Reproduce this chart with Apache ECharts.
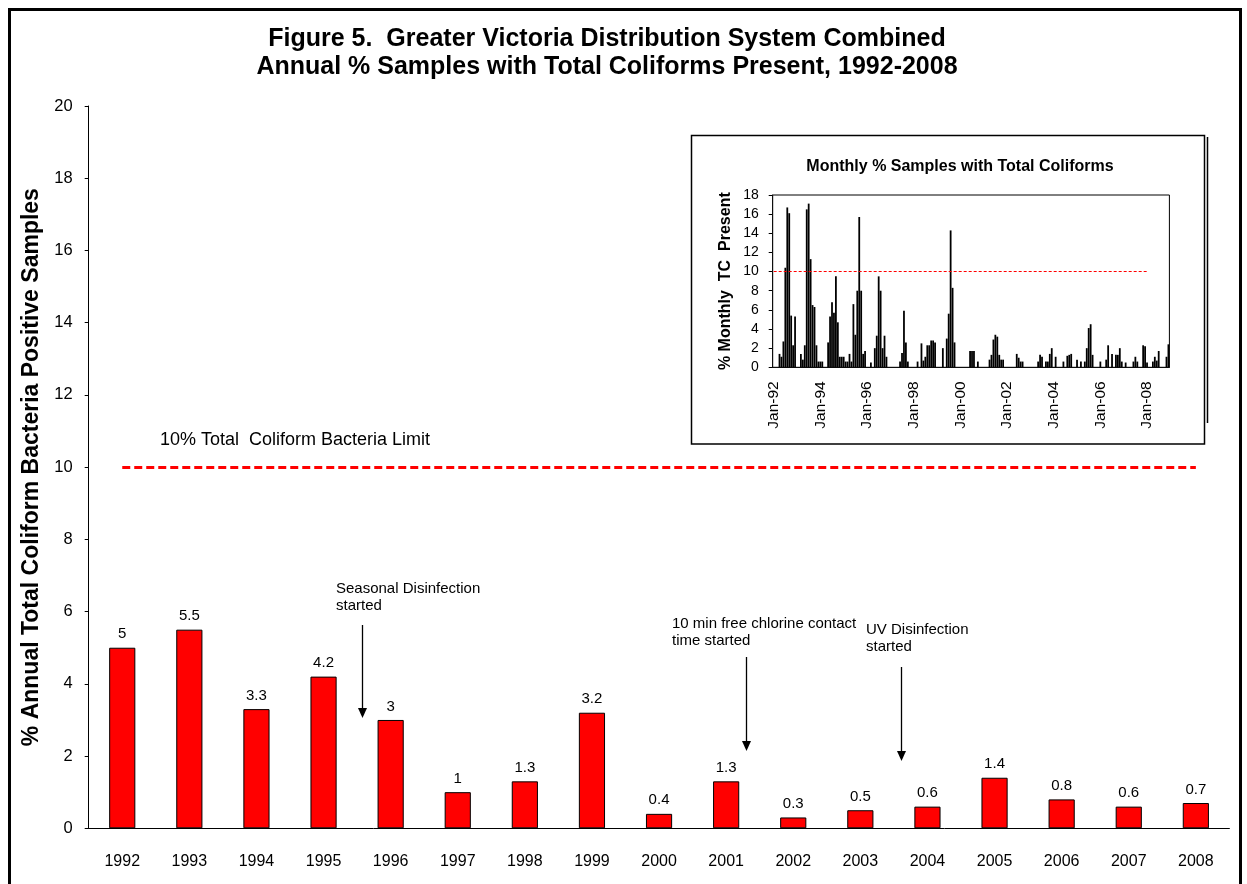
<!DOCTYPE html>
<html>
<head>
<meta charset="utf-8">
<title>Figure 5</title>
<script src="https://cdn.jsdelivr.net/npm/echarts@6/dist/echarts.min.js"></script>
<style>
html, body {margin: 0; padding: 0; background: #fff;}
#chart {width: 1247px; height: 884px;}
</style>
</head>
<body>
<div id="chart"></div>
<script>
// annual % samples with TC present
var years = ['1992','1993','1994','1995','1996','1997','1998','1999','2000','2001','2002','2003','2004','2005','2006','2007','2008'];
var annual = [5, 5.5, 3.3, 4.2, 3, 1, 1.3, 3.2, 0.4, 1.3, 0.3, 0.5, 0.6, 1.4, 0.8, 0.6, 0.7];
var limit = 10;

// monthly % samples (inset), Jan..Dec of each year
var m1992 = [0, 0, 0, 1.4, 1.1, 2.7, 10.4, 16.7, 16.1, 5.4, 2.3, 5.3];
var m1993 = [0, 0, 1.4, 0.8, 2.3, 16.5, 17.1, 11.3, 6.5, 6.3, 2.3, 0.6];
var m1994 = [0.6, 0.6, 0, 0, 2.6, 5.3, 6.8, 5.7, 9.5, 4.7, 1.1, 1.1];
var m1995 = [1.1, 0.6, 0.6, 1.4, 0.6, 6.6, 3.4, 8.0, 15.7, 8.0, 1.4, 1.7];
var m1996 = [0, 0, 0.5, 0, 2.0, 3.3, 9.5, 8.0, 2.0, 3.3, 1.1, 0];
var m1997 = [0, 0, 0, 0, 0, 0.6, 1.5, 5.9, 2.6, 0.6, 0, 0];
var m1998 = [0, 0, 0.6, 0, 2.5, 0.7, 1.1, 2.3, 2.3, 2.8, 2.8, 2.6];
var m1999 = [0, 0, 0, 2.0, 0, 3.0, 5.6, 14.3, 8.3, 2.6, 0, 0];
var m2000 = [0, 0, 0, 0, 0, 1.7, 1.7, 1.7, 0, 0.6, 0, 0];
var m2001 = [0, 0, 0, 0.8, 1.3, 2.9, 3.4, 3.2, 1.3, 0.8, 0.8, 0];
var m2002 = [0, 0, 0, 0, 0, 1.4, 1.0, 0.6, 0.6, 0, 0, 0];
var m2003 = [0, 0, 0, 0, 0.6, 1.3, 1.1, 0, 0.6, 0.6, 1.4, 2.0];
var m2004 = [0, 1.1, 0, 0, 0, 0.6, 0, 1.2, 1.3, 1.4, 0, 0];
var m2005 = [0.8, 0, 0.6, 0, 0.6, 2.0, 4.1, 4.5, 1.3, 0, 0, 0];
var m2006 = [0.6, 0, 0, 0.8, 2.3, 0, 1.4, 0, 1.3, 1.3, 2.0, 0.6];
var m2007 = [0, 0.5, 0, 0, 0, 0.6, 1.1, 0.6, 0, 0, 2.3, 2.2];
var m2008 = [0.5, 0, 0, 0.6, 1.1, 0.7, 1.7, 0, 0, 0, 1.1, 2.4];
var monthNames = ['Jan','Feb','Mar','Apr','May','Jun','Jul','Aug','Sep','Oct','Nov','Dec'];

var monthlyRows = [m1992, m1993, m1994, m1995, m1996, m1997, m1998, m1999, m2000,
                   m2001, m2002, m2003, m2004, m2005, m2006, m2007, m2008];
var months = [];
var monthly = [];
years.forEach(function (y, i) {
    monthNames.forEach(function (mn, j) {
        months.push(mn + '-' + y.slice(2));
        monthly.push(monthlyRows[i][j]);
    });
});

var FONT = '"Liberation Sans", Arial, sans-serif';

function arrow(x, y1, y2) {
    return [
        {type: 'line', z: 10, shape: {x1: x, y1: y1, x2: x, y2: y2 - 8}, style: {stroke: '#000', lineWidth: 1.3}},
        {type: 'polygon', z: 10, shape: {points: [[x - 4.5, y2 - 10], [x + 4.5, y2 - 10], [x, y2]]}, style: {fill: '#000'}}
    ];
}
function note(x, y, txt) {
    return {type: 'text', z: 10, left: x, top: y, style: {text: txt, font: '15px ' + FONT, fill: '#000', lineHeight: 17}};
}

var chart = echarts.init(document.getElementById('chart'));
var option = {
    animation: false,
    backgroundColor: '#fff',
    title: [{
        text: 'Figure 5.  Greater Victoria Distribution System Combined\nAnnual % Samples with Total Coliforms Present, 1992-2008',
        left: 602, top: 20, textAlign: 'center',
        textStyle: {fontFamily: FONT, fontSize: 25, fontWeight: 'bold', lineHeight: 28, color: '#000'}
    }, {
        text: 'Monthly % Samples with Total Coliforms',
        left: 955, top: 154, textAlign: 'center',
        textStyle: {fontFamily: FONT, fontSize: 16, fontWeight: 'bold', color: '#000'}
    }],
    graphic: [
        {type: 'rect', z: 0, shape: {x: 9.5, y: 9.5, width: 1231, height: 884}, style: {fill: null, stroke: '#000', lineWidth: 3}},
        {type: 'rect', z: 0, shape: {x: 691.5, y: 135.5, width: 513, height: 308.5}, style: {fill: '#fff', stroke: '#000', lineWidth: 1.5}},
        {type: 'line', z: 0, shape: {x1: 1207.5, y1: 137, x2: 1207.5, y2: 423}, style: {stroke: '#000', lineWidth: 1.5}},
        {type: 'text', z: 10, left: 160, top: 431, style: {text: '10% Total  Coliform Bacteria Limit', font: '18px ' + FONT, fill: '#000'}},
        note(336, 580, 'Seasonal Disinfection\nstarted'),
        note(672, 615, '10 min free chlorine contact\ntime started'),
        note(866, 621, 'UV Disinfection\nstarted')
    ].concat(arrow(362.5, 625, 718), arrow(746.5, 657, 751), arrow(901.5, 667, 761)),
    grid: [
        {left: 88.7, right: 17.6, top: 106, bottom: 55.7},
        {left: 772.7, top: 195, width: 396.7, height: 172.3, show: true, borderColor: '#000', borderWidth: 1, backgroundColor: '#fff', z: 3}
    ],
    xAxis: [{
        type: 'category', gridIndex: 0, data: years,
        axisLine: {lineStyle: {color: '#000', width: 1}},
        axisTick: {length: 6, lineStyle: {color: '#000'}},
        axisLabel: {fontFamily: FONT, fontSize: 16, color: '#000', margin: 25}
    }, {
        type: 'category', gridIndex: 1, data: months,
        axisLine: {lineStyle: {color: '#000', width: 1}},
        axisTick: {length: 4, interval: function (i) { return i % 24 === 0; }, lineStyle: {color: '#000'}},
        axisLabel: {
            fontFamily: FONT, fontSize: 15.5, color: '#000', rotate: 90, margin: 14,
            interval: function (i) { return i % 24 === 0; }
        }
    }],
    yAxis: [{
        type: 'value', gridIndex: 0, min: 0, max: 20, interval: 2,
        name: '% Annual Total Coliform Bacteria Positive Samples',
        nameLocation: 'middle', nameGap: 45,
        nameTextStyle: {fontFamily: FONT, fontSize: 23, fontWeight: 'bold', color: '#000'},
        axisLine: {show: true, lineStyle: {color: '#000', width: 1}},
        axisTick: {show: true, length: 4, lineStyle: {color: '#000'}},
        splitLine: {show: false},
        axisLabel: {fontFamily: FONT, fontSize: 16.5, color: '#000', margin: 16}
    }, {
        type: 'value', gridIndex: 1, min: 0, max: 18, interval: 2,
        name: '% Monthly  TC  Present',
        nameLocation: 'middle', nameGap: 39,
        nameTextStyle: {fontFamily: FONT, fontSize: 16, fontWeight: 'bold', color: '#000'},
        axisLine: {show: true, lineStyle: {color: '#000', width: 1}},
        axisTick: {show: true, length: 4, lineStyle: {color: '#000'}},
        splitLine: {show: false},
        axisLabel: {fontFamily: FONT, fontSize: 14, color: '#000', margin: 14}
    }],
    series: [{
        type: 'bar', xAxisIndex: 0, yAxisIndex: 0, data: annual,
        barWidth: '39%',
        itemStyle: {color: '#ff0000', borderColor: '#000', borderWidth: 1},
        label: {show: true, position: 'top', distance: 6, fontFamily: FONT, fontSize: 15, color: '#000'},
        markLine: {
            silent: true, symbol: 'none', label: {show: false},
            lineStyle: {color: '#ff0000', width: 3, type: [8, 4]},
            data: [[{coord: [years[0], limit]}, {coord: [years[years.length - 1], limit]}]]
        }
    }, {
        type: 'bar', xAxisIndex: 1, yAxisIndex: 1, data: monthly,
        barCategoryGap: '8%', z: 4,
        itemStyle: {color: '#000'},
        markLine: {
            silent: true, symbol: 'none', label: {show: false},
            lineStyle: {color: '#ff0000', width: 1, type: [3, 2]},
            data: [[{coord: [months[0], limit]}, {coord: ['Jan-08', limit]}]]
        }
    }]
};
chart.setOption(option);
</script>
</body>
</html>
